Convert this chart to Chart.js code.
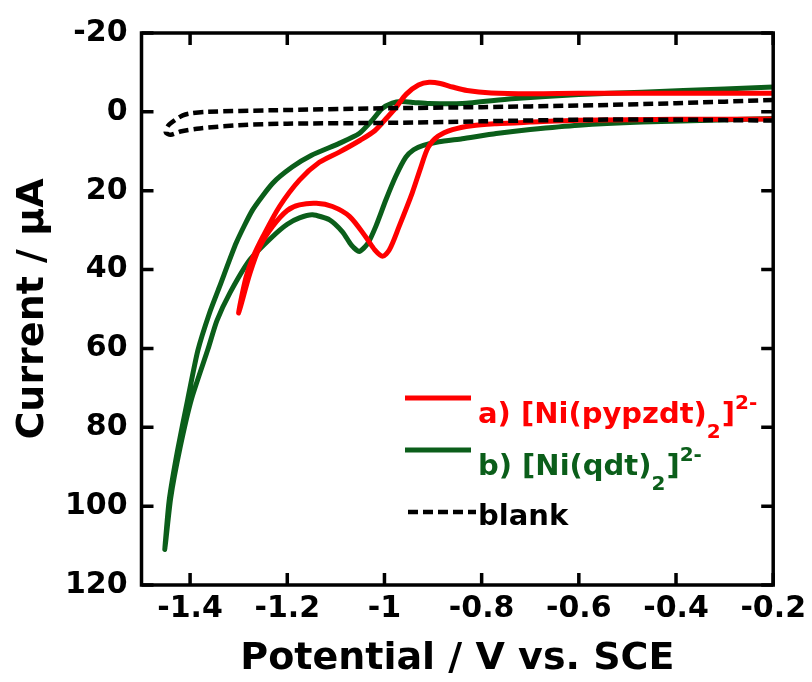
<!DOCTYPE html>
<html>
<head>
<meta charset="utf-8">
<script src="https://cdn.jsdelivr.net/npm/chart.js@4.4.1/dist/chart.umd.min.js"></script>
<style>
  body { margin: 0; background: #fff; }
  canvas { display: block; }
</style>
</head>
<body>
<canvas id="cv" width="812" height="682"></canvas>
<script>
// tick labels
const xTicks = [-1.4, -1.2, -1.0, -0.8, -0.6, -0.4, -0.2];
const yTicks = [-20, 0, 20, 40, 60, 80, 100, 120];

// a) [Ni(pypzdt)2]2- : sweep from -0.2 V to -1.3 V and back
const redPotential = [
  -0.20, -0.40, -0.60, -0.70, -0.77, -0.82, -0.86, -0.89, -0.91, -0.925, -0.943, -0.97, -0.99, -1.004,
  -1.02, -1.038, -1.072, -1.107, -1.14, -1.175, -1.20, -1.23, -1.257, -1.277, -1.30,
  -1.285, -1.271, -1.25, -1.216, -1.175, -1.134, -1.093, -1.05, -1.02, -0.995, -0.977, -0.955,
  -0.93, -0.908, -0.885, -0.86, -0.83, -0.78, -0.70, -0.60, -0.40, -0.20
];
const redCurrent = [
  1.8, 1.9, 2.1, 2.6, 3.0, 3.5, 4.5, 6.2, 9.0, 14.0, 20.6, 29.1, 35.0, 36.6,
  35.0, 31.8, 26.5, 24.0, 23.2, 23.6, 25.0, 29.0, 34.3, 41.0, 51.0,
  42.0, 37.0, 31.6, 24.0, 17.3, 12.8, 10.2, 7.2, 4.8, 1.5, -1.0, -4.5,
  -6.8, -7.5, -7.2, -6.3, -5.4, -4.8, -4.6, -4.7, -4.7, -4.7
];

// b) [Ni(qdt)2]2- : sweep from -0.2 V to -1.45 V and back
const greenPotential = [
  -0.20, -0.35, -0.47, -0.60, -0.70, -0.77, -0.84, -0.888, -0.92, -0.94, -0.956, -0.977, -0.997,
  -1.018, -1.035, -1.052, -1.068, -1.086, -1.113, -1.148, -1.175, -1.20, -1.23, -1.277, -1.318,
  -1.345, -1.363, -1.397, -1.421, -1.44, -1.452,
  -1.443, -1.426, -1.405, -1.384, -1.36, -1.339, -1.305, -1.271, -1.23, -1.19, -1.15, -1.093,
  -1.052, -1.025, -1.005, -0.984, -0.965, -0.94, -0.908, -0.84, -0.738, -0.60, -0.47, -0.30, -0.20
];
const greenCurrent = [
  1.7, 2.2, 2.6, 3.4, 4.5, 5.5, 6.8, 7.6, 8.5, 9.6, 11.5, 16.4, 22.3,
  29.1, 33.5, 35.4, 33.8, 30.5, 27.4, 26.1, 26.9, 28.5, 31.6, 37.5, 45.9,
  53.0, 60.1, 72.8, 85.4, 98.0, 111.0,
  98.5, 86.0, 73.0, 60.5, 51.0, 44.2, 33.2, 24.8, 18.1, 14.0, 11.0, 8.0,
  5.5, 2.1, -0.8, -2.2, -2.6, -2.4, -2.1, -2.1, -3.3, -4.4, -5.0, -5.8, -6.3
];

// blank electrolyte
const blankPotential = [
  -0.20, -0.40, -0.60, -0.80, -1.00, -1.20, -1.30, -1.38, -1.42, -1.44, -1.45,
  -1.445, -1.43, -1.415, -1.40, -1.366, -1.23, -1.00, -0.80, -0.60, -0.40, -0.20
];
const blankCurrent = [
  2.2, 2.0, 2.0, 2.4, 2.8, 3.0, 3.4, 4.2, 5.0, 5.8, 5.2,
  3.5, 2.0, 0.9, 0.4, 0.0, -0.4, -0.9, -1.2, -1.6, -2.2, -3.0
];

const RED = '#ff0000';
const GREEN = '#0b5e1a';
const FONT = '"DejaVu Sans", "Liberation Sans", Arial, sans-serif';

function toPoints(xs, ys) {
  return xs.map((x, i) => ({ x: x, y: ys[i] }));
}

// inward tick marks and the closed frame
const framePlugin = {
  id: 'frame',
  afterDraw(chart) {
    const { ctx, chartArea: a, scales } = chart;
    const len = 12;
    ctx.save();
    ctx.strokeStyle = '#000';
    ctx.lineWidth = 3.5;
    ctx.beginPath();
    xTicks.forEach(v => {
      const px = scales.x.getPixelForValue(v);
      ctx.moveTo(px, a.bottom); ctx.lineTo(px, a.bottom - len);
      ctx.moveTo(px, a.top); ctx.lineTo(px, a.top + len);
    });
    yTicks.forEach(v => {
      const py = scales.y.getPixelForValue(v);
      ctx.moveTo(a.left, py); ctx.lineTo(a.left + len, py);
      ctx.moveTo(a.right, py); ctx.lineTo(a.right - len, py);
    });
    ctx.stroke();
    ctx.strokeRect(a.left, a.top, a.right - a.left, a.bottom - a.top);
    ctx.restore();
  }
};

// legend with sub/superscripts
function drawRich(ctx, parts, x, y, color) {
  ctx.fillStyle = color;
  ctx.textBaseline = 'alphabetic';
  ctx.textAlign = 'left';
  parts.forEach(p => {
    const small = p.s !== 'n';
    ctx.font = 'bold ' + (small ? 20 : 29) + 'px ' + FONT;
    const dy = p.s === 'sub' ? 15 : p.s === 'sup' ? -14 : 0;
    ctx.fillText(p.t, x, y + dy);
    x += ctx.measureText(p.t).width + (small ? 1 : 0);
  });
}

const legendPlugin = {
  id: 'cvLegend',
  afterDraw(chart) {
    const ctx = chart.ctx;
    ctx.save();
    ctx.lineWidth = 5;
    ctx.strokeStyle = RED;
    ctx.beginPath(); ctx.moveTo(405, 398); ctx.lineTo(471, 398); ctx.stroke();
    ctx.strokeStyle = GREEN;
    ctx.beginPath(); ctx.moveTo(405, 450); ctx.lineTo(471, 450); ctx.stroke();
    ctx.strokeStyle = '#000';
    ctx.lineWidth = 4.5;
    ctx.setLineDash([10, 5]);
    ctx.beginPath(); ctx.moveTo(408, 512); ctx.lineTo(476, 512); ctx.stroke();
    ctx.setLineDash([]);
    drawRich(ctx, [
      { t: 'a) [Ni(pypzdt)', s: 'n' }, { t: '2', s: 'sub' }, { t: ']', s: 'n' }, { t: '2-', s: 'sup' }
    ], 478, 423, RED);
    drawRich(ctx, [
      { t: 'b) [Ni(qdt)', s: 'n' }, { t: '2', s: 'sub' }, { t: ']', s: 'n' }, { t: '2-', s: 'sup' }
    ], 478, 475, GREEN);
    drawRich(ctx, [{ t: 'blank', s: 'n' }], 478, 525, '#000');
    ctx.restore();
  }
};

const fmt = v => String(Math.round(v * 100) / 100);

new Chart(document.getElementById('cv'), {
  type: 'scatter',
  data: {
    datasets: [
      {
        label: 'blank',
        data: toPoints(blankPotential, blankCurrent),
        showLine: true,
        borderColor: '#000',
        borderWidth: 4.5,
        borderDash: [10, 5],
        pointRadius: 0,
        tension: 0.3,
      },
      {
        label: 'a) [Ni(pypzdt)2]2-',
        data: toPoints(redPotential, redCurrent),
        showLine: true,
        borderColor: RED,
        borderWidth: 5,
        pointRadius: 0,
        tension: 0.3,
      },
      {
        label: 'b) [Ni(qdt)2]2-',
        data: toPoints(greenPotential, greenCurrent),
        showLine: true,
        borderColor: GREEN,
        borderWidth: 5,
        pointRadius: 0,
        tension: 0.2,
      },
    ],
  },
  options: {
    responsive: false,
    animation: false,
    devicePixelRatio: 1,
    layout: { padding: { top: 33, right: 36, left: 0, bottom: 0 } },
    plugins: {
      legend: { display: false },
      tooltip: { enabled: false },
    },
    scales: {
      x: {
        type: 'linear',
        min: -1.5,
        max: -0.2,
        afterBuildTicks: s => { s.ticks = xTicks.map(v => ({ value: v })); },
        afterFit: s => { s.height = 97; },
        grid: { display: false, drawTicks: false },
        border: { display: false },
        ticks: {
          padding: 6,
          color: '#000',
          maxRotation: 0,
          autoSkip: false,
          font: { family: FONT, size: 30, weight: 'bold' },
          callback: fmt,
        },
        title: {
          display: true,
          text: 'Potential / V vs. SCE',
          color: '#000',
          font: { family: FONT, size: 38, weight: 'bold' },
          padding: { top: 0, bottom: 0 },
        },
      },
      y: {
        type: 'linear',
        reverse: true,
        min: -20,
        max: 120,
        afterBuildTicks: s => { s.ticks = yTicks.map(v => ({ value: v })); },
        afterFit: s => { s.width = 141.5; },
        grid: { display: false, drawTicks: false },
        border: { display: false },
        ticks: {
          padding: 14,
          color: '#000',
          autoSkip: false,
          font: { family: FONT, size: 30, weight: 'bold' },
          callback: fmt,
        },
        title: {
          display: true,
          text: 'Current / µA',
          color: '#000',
          font: { family: FONT, size: 38, weight: 'bold' },
          padding: { top: 10, bottom: 0 },
        },
      },
    },
  },
  plugins: [framePlugin, legendPlugin],
});
</script>
</body>
</html>
